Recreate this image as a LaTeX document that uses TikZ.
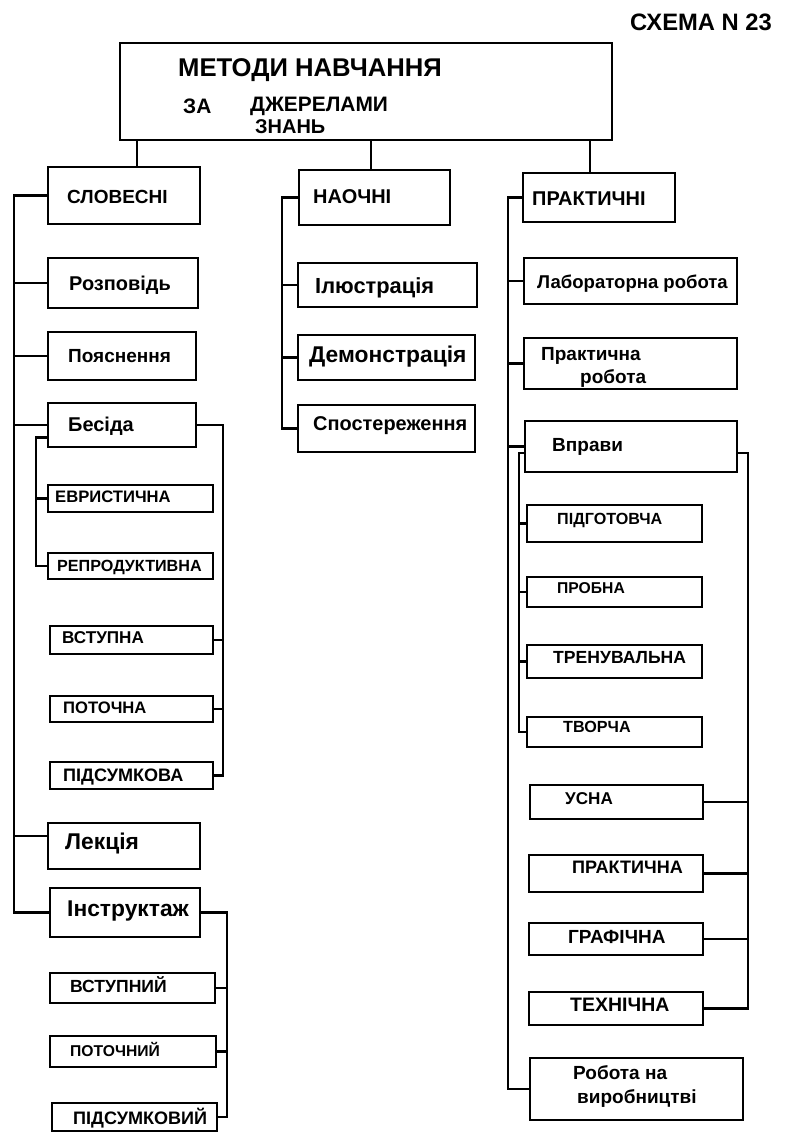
\documentclass[tikz,border=0pt]{standalone}
\usepackage{fontspec}
\setmainfont{Liberation Sans}
\usetikzlibrary{fit,calc}

% bold lettering, sized a little down so the words keep their widths
\newcommand\fsz[1]{\fontsize{\fpeval{0.95*#1}}{\fpeval{0.95*#1}}\selectfont\bfseries}
% a framed box given by two opposite corners
\newcommand\boxat[5]{\node[frame, fit={(#2,#3) (#4,#5)}] (#1) {};}

\begin{document}
\begin{tikzpicture}[x=1pt,y=-1pt,
  frame/.style={draw, rectangle, inner sep=0pt, line width=2.3pt},
  lbl/.style={inner sep=0pt, anchor=west, font=\fsz{#1}},
  lbl/.default=19,
  wire/.style={line width=2.1pt, line join=miter}]
\useasboundingbox (0,0) rectangle (787,1134);

% ---------- heading ----------
\node[lbl=25] (num) at (630,22) {СХЕМА N 23};

% ---------- boxes ----------
\boxat{main}{120}{43}{612}{140}
\boxat{slov}{48}{167}{200}{224}
\boxat{naoch}{299}{170}{450}{225}
\boxat{prakt}{523}{173}{675}{222}

\boxat{rozp}{48}{258}{198}{308}
\boxat{poyas}{48}{332}{196}{380}
\boxat{besida}{48}{403}{196}{447}
\boxat{evr}{48}{485}{213}{512}
\boxat{repr}{48}{553}{213}{579}
\boxat{vstupna}{50}{626}{213}{654}
\boxat{potochna}{50}{696}{213}{722}
\boxat{pidsumkova}{50}{762}{213}{789}
\boxat{lekciya}{48}{823}{200}{869}
\boxat{instr}{50}{888}{200}{937}
\boxat{vstupnyi}{50}{973}{215}{1003}
\boxat{potochnyi}{50}{1036}{216}{1067}
\boxat{pidsumkovyi}{52}{1103}{217}{1131}

\boxat{ilyustr}{298}{263}{477}{307}
\boxat{demonstr}{298}{335}{475}{380}
\boxat{sposter}{298}{405}{475}{452}

\boxat{labor}{524}{258}{737}{304}
\boxat{praktrob}{524}{338}{737}{389}
\boxat{vpravy}{525}{421}{737}{472}
\boxat{pidgot}{527}{505}{702}{542}
\boxat{probna}{527}{577}{702}{607}
\boxat{trenuv}{527}{645}{702}{678}
\boxat{tvorcha}{527}{717}{702}{747}
\boxat{usna}{530}{785}{703}{819}
\boxat{praktychna}{529}{855}{703}{892}
\boxat{grafichna}{529}{923}{703}{955}
\boxat{tehnichna}{529}{992}{703}{1025}
\boxat{robota}{530}{1058}{743}{1120}

% ---------- labels ----------
\node[lbl=27] (tMain1) at (178,70) {МЕТОДИ НАВЧАННЯ};
\node[lbl=22] (tMain2) at (183,106) {ЗА};
\node[lbl=22] (tMain3) at (250,106) {ДЖЕРЕЛАМИ};
\node[lbl=21] (tMain4) at (255,127) {ЗНАНЬ};

\node[lbl=20] (tSlov) at (67,197) {СЛОВЕСНІ};
\node[lbl=21] (tNaoch) at (313,197) {НАОЧНІ};
\node[lbl=21] (tPrakt) at (532,199) {ПРАКТИЧНІ};

\node[lbl=21] (tRozp) at (69,285) {Розповідь};
\node[lbl=20] (tPoyas) at (68,356) {Пояснення};
\node[lbl=21] (tBesida) at (68,426) {Бесіда};
\node[lbl=17.5] (tEvr) at (55,497) {ЕВРИСТИЧНА};
\node[lbl=17] (tRepr) at (57,567) {РЕПРОДУКТИВНА};
\node[lbl=18] (tVstupna) at (62,638) {ВСТУПНА};
\node[lbl=17.5] (tPotochna) at (63,708) {ПОТОЧНА};
\node[lbl=19] (tPidsumkova) at (63,777) {ПІДСУМКОВА};
\node[lbl=24] (tLekciya) at (65,843) {Лекція};
\node[lbl=24] (tInstr) at (67,911) {Інструктаж};
\node[lbl=18.5] (tVstupnyi) at (70,985) {ВСТУПНИЙ};
\node[lbl=16.5] (tPotochnyi) at (70,1049) {ПОТОЧНИЙ};
\node[lbl=19] (tPidsumkovyi) at (73,1118) {ПІДСУМКОВИЙ};

\node[lbl=23] (tIlyustr) at (315,288) {Ілюстрація};
\node[lbl=24] (tDemonstr) at (309,357) {Демонстрація};
\node[lbl=21] (tSposter) at (313,426) {Спостереження};

\node[lbl=19.5] (tLabor) at (537,284) {Лабораторна робота};
\node[lbl=20] (tPraktrob1) at (541,356) {Практична};
\node[lbl=20] (tPraktrob2) at (580,379) {робота};
\node[lbl=20] (tVpravy) at (552,447) {Вправи};
\node[lbl=17] (tPidgot) at (557,520) {ПІДГОТОВЧА};
\node[lbl=16.5] (tProbna) at (557,588) {ПРОБНА};
\node[lbl=18.5] (tTrenuv) at (553,658) {ТРЕНУВАЛЬНА};
\node[lbl=17] (tTvorcha) at (563,727) {ТВОРЧА};
\node[lbl=18] (tUsna) at (565,799) {УСНА};
\node[lbl=19] (tPraktychna) at (572,867) {ПРАКТИЧНА};
\node[lbl=20] (tGrafichna) at (568,937) {ГРАФІЧНА};
\node[lbl=20.5] (tTehnichna) at (570,1005) {ТЕХНІЧНА};
\node[lbl=20] (tRobota1) at (573,1073) {Робота на};
\node[lbl=20] (tRobota2) at (577,1098) {виробництві};

% ---------- rails ----------
\coordinate (c1) at (137,0);
\coordinate (c2) at (371,0);
\coordinate (c3) at (590,0);
\coordinate (tL) at (14,0);
\coordinate (tB) at (36,0);
\coordinate (tB2) at (223,0);
\coordinate (tI) at (227,0);
\coordinate (tM) at (282,0);
\coordinate (tR) at (508,0);
\coordinate (tV) at (519,0);
\coordinate (tV2) at (748,0);

\coordinate (lekIn) at ($(lekciya.north west)!0.3!(lekciya.south west)$);
\coordinate (besIn) at ($(besida.north west)!0.77!(besida.south west)$);
\coordinate (vprIn) at ($(vpravy.north west)!0.63!(vpravy.south west)$);
\coordinate (vprOut) at ($(vpravy.north east)!0.62!(vpravy.south east)$);

% ---------- connectors ----------
\begin{scope}[wire]
  % from the main box to the three groups
  \draw (c1 |- main.south) -- (c1 |- slov.north);
  \draw (c2 |- main.south) -- (c2 |- naoch.north);
  \draw (c3 |- main.south) -- (c3 |- prakt.north);

  % verbal methods
  \draw (slov.west) -- (tL |- slov.west) -- (tL |- instr.west) -- (instr.west);
  \draw (rozp.west) -- (tL |- rozp.west);
  \draw (poyas.west) -- (tL |- poyas.west);
  \draw (besida.west) -- (tL |- besida.west);
  \draw (lekIn) -- (tL |- lekIn);

  % kinds of conversation
  \draw (besIn) -- (tB |- besIn) -- (tB |- repr.west) -- (repr.west);
  \draw (evr.west) -- (tB |- evr.west);
  \draw (besida.east) -- (tB2 |- besida.east) -- (tB2 |- pidsumkova.east) -- (pidsumkova.east);
  \draw (vstupna.east) -- (tB2 |- vstupna.east);
  \draw (potochna.east) -- (tB2 |- potochna.east);

  % kinds of instruction
  \draw (instr.east) -- (tI |- instr.east) -- (tI |- pidsumkovyi.east) -- (pidsumkovyi.east);
  \draw (vstupnyi.east) -- (tI |- vstupnyi.east);
  \draw (potochnyi.east) -- (tI |- potochnyi.east);

  % visual methods
  \draw (naoch.west) -- (tM |- naoch.west) -- (tM |- sposter.west) -- (sposter.west);
  \draw (ilyustr.west) -- (tM |- ilyustr.west);
  \draw (demonstr.west) -- (tM |- demonstr.west);

  % practical methods
  \draw (prakt.west) -- (tR |- prakt.west) -- (tR |- robota.west) -- (robota.west);
  \draw (labor.west) -- (tR |- labor.west);
  \draw (praktrob.west) -- (tR |- praktrob.west);
  \draw (vpravy.west) -- (tR |- vpravy.west);

  % kinds of exercises
  \draw (vprIn) -- (tV |- vprIn) -- (tV |- tvorcha.west) -- (tvorcha.west);
  \draw (pidgot.west) -- (tV |- pidgot.west);
  \draw (probna.west) -- (tV |- probna.west);
  \draw (trenuv.west) -- (tV |- trenuv.west);
  \draw (vprOut) -- (tV2 |- vprOut) -- (tV2 |- tehnichna.east) -- (tehnichna.east);
  \draw (usna.east) -- (tV2 |- usna.east);
  \draw (praktychna.east) -- (tV2 |- praktychna.east);
  \draw (grafichna.east) -- (tV2 |- grafichna.east);
\end{scope}
\end{tikzpicture}
\end{document}
